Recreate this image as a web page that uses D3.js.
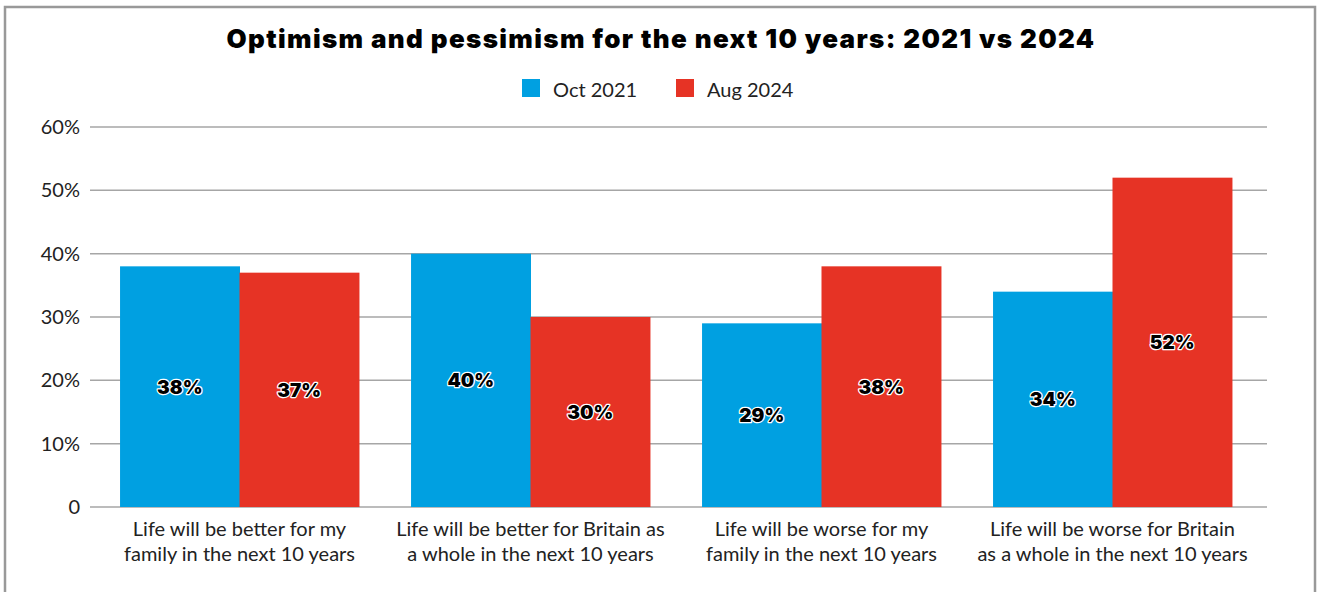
<!DOCTYPE html>
<html>
<head>
<meta charset="utf-8">
<script src="https://cdn.jsdelivr.net/npm/d3@7"></script>
<style>
  html, body { margin: 0; padding: 0; background: #fff; }
  svg { display: block; font-family: "Lato", "Open Sans", sans-serif; }
</style>
</head>
<body>
<svg id="chart" width="1320" height="592"></svg>
<script>
// Survey answers, two waves
const categories = [
  ["Life will be better for my", "family in the next 10 years"],
  ["Life will be better for Britain as", "a whole in the next 10 years"],
  ["Life will be worse for my", "family in the next 10 years"],
  ["Life will be worse for Britain", "as a whole in the next 10 years"]
];
const seriesNames = ["Oct 2021", "Aug 2024"];
const oct2021 = [38, 40, 29, 34];
const aug2024 = [37, 30, 38, 52];
const yTicks = [0, 10, 20, 30, 40, 50, 60];
const colors = ["#00a0e1", "#e63325"];

const svg = d3.select("#chart");

// frame
svg.append("rect")
  .attr("x", 5).attr("y", 7).attr("width", 1310).attr("height", 600)
  .attr("fill", "none").attr("stroke", "#999").attr("stroke-width", 2.5);

// title
svg.append("text")
  .attr("x", 661).attr("y", 48)
  .attr("text-anchor", "middle")
  .attr("font-family", "Inter, sans-serif")
  .attr("font-size", 26).attr("font-weight", 900)
  .attr("letter-spacing", 1.35)
  .attr("fill", "#000")
  .text("Optimism and pessimism for the next 10 years: 2021 vs 2024");

// legend
const legend = svg.append("g");
const legendX = [522, 676];
seriesNames.forEach((name, i) => {
  legend.append("rect")
    .attr("x", legendX[i]).attr("y", 79).attr("width", 18).attr("height", 18)
    .attr("fill", colors[i]);
  legend.append("text")
    .attr("x", legendX[i] + 31).attr("y", 97)
    .attr("font-size", 20).attr("fill", "#222")
    .text(name);
});

// scales
const y = d3.scaleLinear().domain([0, 60]).range([507, 127]);
const x0 = d3.scaleBand().domain(d3.range(categories.length))
  .range([94, 1258]).paddingInner(0.179).paddingOuter(0.0895);
const x1 = d3.scaleBand().domain(d3.range(seriesNames.length))
  .range([0, x0.bandwidth()]);

// gridlines
svg.append("g")
  .selectAll("line")
  .data(yTicks)
  .join("line")
  .attr("x1", 90).attr("x2", 1267)
  .attr("y1", d => y(d)).attr("y2", d => y(d))
  .attr("stroke", "#a6a6a6").attr("stroke-width", 1.5);

// y axis labels
const yAxis = svg.append("g")
  .attr("transform", "translate(80,0)")
  .call(d3.axisLeft(y).tickValues(yTicks).tickSize(0).tickPadding(0)
    .tickFormat(d => d === 0 ? "0" : d + "%"));
yAxis.select(".domain").remove();
yAxis.selectAll("text")
  .attr("font-size", 20).attr("fill", "#222")
  .attr("font-family", "Lato, sans-serif");

// bars
const rows = categories.map((c, i) => [oct2021[i], aug2024[i]]);
const groups = svg.append("g")
  .selectAll("g")
  .data(rows)
  .join("g")
  .attr("transform", (d, i) => `translate(${x0(i)},0)`);

groups.selectAll("rect")
  .data(d => d.map((v, j) => ({ v, j })))
  .join("rect")
  .attr("x", d => x1(d.j))
  .attr("width", x1.bandwidth() + 0.5)
  .attr("y", d => y(d.v))
  .attr("height", d => y(0) - y(d.v))
  .attr("fill", d => colors[d.j]);

// value labels, outlined
groups.selectAll("text.val")
  .data(d => d.map((v, j) => ({ v, j })))
  .join("text")
  .attr("class", "val")
  .attr("x", d => x1(d.j) + x1.bandwidth() / 2)
  .attr("y", d => (y(d.v) + y(0)) / 2 + 7)
  .attr("text-anchor", "middle")
  .attr("font-family", "Inter, sans-serif")
  .attr("font-size", 19).attr("font-weight", 900)
  .attr("fill", "#000")
  .attr("stroke", "#fff").attr("stroke-width", 2.5)
  .attr("paint-order", "stroke")
  .attr("stroke-linejoin", "round")
  .text(d => d.v + "%");

// category labels
svg.append("g")
  .selectAll("text")
  .data(categories)
  .join("text")
  .attr("x", (d, i) => x0(i) + x0.bandwidth() / 2)
  .attr("text-anchor", "middle")
  .attr("font-size", 20).attr("fill", "#222")
  .each(function (lines) {
    d3.select(this).selectAll("tspan")
      .data(lines)
      .join("tspan")
      .attr("x", d3.select(this).attr("x"))
      .attr("y", (d, k) => 536 + k * 25)
      .text(d => d);
  });
</script>
</body>
</html>
